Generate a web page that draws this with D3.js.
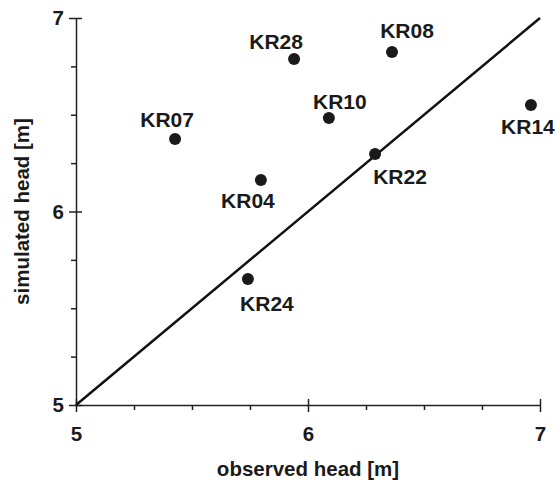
<!DOCTYPE html>
<html>
<head>
<meta charset="utf-8">
<style>
  body { margin: 0; background: #fff; }
  svg { display: block; font-family: "Liberation Sans", Arial, sans-serif; font-weight: bold; }
  .axis path, .axis line { stroke: #222; stroke-width: 1.5; }
  .axis text { fill: #1a1a1a; font-size: 20.5px; font-weight: bold; font-family: "Liberation Sans", Arial, sans-serif; }
</style>
</head>
<body>
<svg width="555" height="483"></svg>
<script src="https://d3js.org/d3.v7.min.js"></script>
<script>

// wells: observed vs simulated head [m]
var wells     = ["KR28", "KR08", "KR10", "KR07", "KR04", "KR22", "KR24", "KR14"];
var observed  = [5.94, 6.362, 6.09, 5.427, 5.797, 6.289, 5.741, 6.961];
var simulated = [6.788, 6.824, 6.483, 6.375, 6.163, 6.297, 5.651, 6.55];

var majorTicks = [5, 6, 7];
var minorTicks = [5.25, 5.5, 5.75, 6.25, 6.5, 6.75];

// where each label sits relative to its dot (centre x, baseline y)
var labelShift = {
  KR28: [-18, -10], KR08: [15, -14], KR10: [11, -9], KR07: [-8, -12],
  KR04: [-13, 28], KR22: [25, 30], KR24: [19, 32], KR14: [-3, 29]
};

var svg = d3.select("svg"),
    margin = {top: 18, right: 15, bottom: 78, left: 76},
    width = +svg.attr("width") - margin.left - margin.right,
    height = +svg.attr("height") - margin.top - margin.bottom;

var x = d3.scaleLinear().domain([5, 7]).range([0, width]);
var y = d3.scaleLinear().domain([5, 7]).range([height, 0]);

var g = svg.append("g")
    .attr("transform", "translate(" + margin.left + "," + margin.top + ")");

// minor ticks
g.append("g")
    .attr("class", "axis")
    .attr("transform", "translate(0," + height + ")")
    .call(d3.axisBottom(x).tickValues(minorTicks).tickSize(5).tickFormat(""))
    .select(".domain").remove();

g.append("g")
    .attr("class", "axis")
    .call(d3.axisLeft(y).tickValues(minorTicks).tickSize(5).tickFormat(""))
    .select(".domain").remove();

// major ticks crossing the axis
var xAxis = g.append("g")
    .attr("class", "axis")
    .attr("transform", "translate(0," + height + ")")
    .call(d3.axisBottom(x).tickValues(majorTicks).tickSizeInner(7).tickSizeOuter(0)
      .tickPadding(14).tickFormat(d3.format("d")));
xAxis.selectAll(".tick line").attr("y1", -6);

var yAxis = g.append("g")
    .attr("class", "axis")
    .call(d3.axisLeft(y).tickValues(majorTicks).tickSizeInner(7).tickSizeOuter(0)
      .tickPadding(5).tickFormat(d3.format("d")));
yAxis.selectAll(".tick line").attr("x1", 6);

// 1:1 line
g.append("line")
    .attr("x1", x(5)).attr("y1", y(5))
    .attr("x2", x(7)).attr("y2", y(7))
    .attr("stroke", "#111")
    .attr("stroke-width", 2.5);

var pts = wells.map(function(w, i) {
  return {name: w, obs: observed[i], sim: simulated[i]};
});

var node = g.selectAll(".well")
    .data(pts)
  .enter().append("g")
    .attr("class", "well")
    .attr("transform", function(d) { return "translate(" + x(d.obs) + "," + y(d.sim) + ")"; });

node.append("circle")
    .attr("r", 6)
    .attr("fill", "#1a1a1a");

node.append("text")
    .attr("x", function(d) { return labelShift[d.name][0]; })
    .attr("y", function(d) { return labelShift[d.name][1]; })
    .attr("text-anchor", "middle")
    .attr("font-size", 21)
    .attr("fill", "#1a1a1a")
    .text(function(d) { return d.name; });

// axis titles
svg.append("text")
    .attr("x", margin.left + width / 2)
    .attr("y", 476)
    .attr("text-anchor", "middle")
    .attr("font-size", 20.5)
    .attr("fill", "#1a1a1a")
    .text("observed head [m]");

svg.append("text")
    .attr("transform", "translate(29," + (margin.top + height / 2) + ") rotate(-90)")
    .attr("text-anchor", "middle")
    .attr("font-size", 20.5)
    .attr("fill", "#1a1a1a")
    .text("simulated head [m]");

</script>
</body>
</html>
